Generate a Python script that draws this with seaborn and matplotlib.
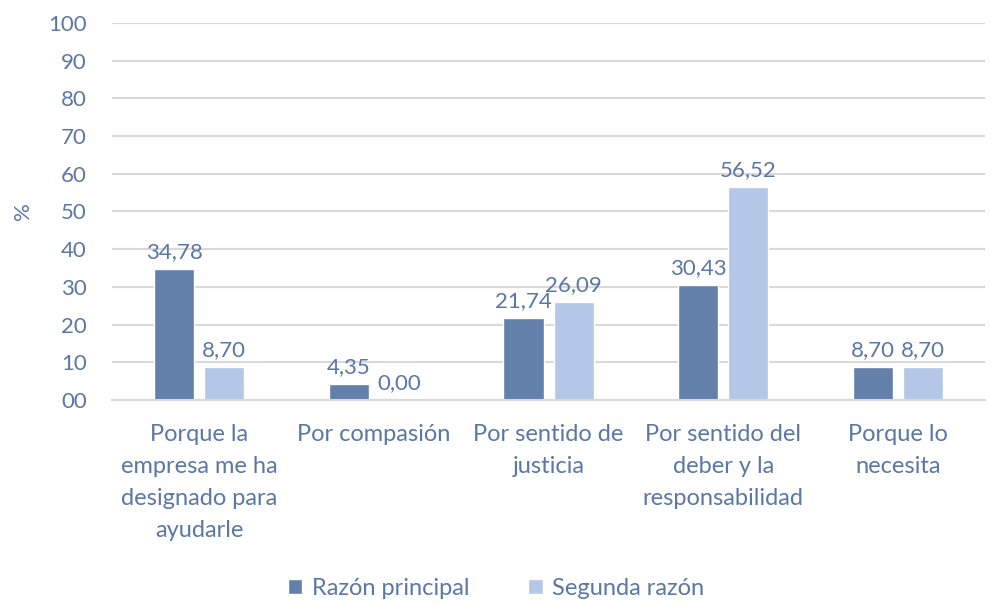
import pandas as pd
import numpy as np
import matplotlib.pyplot as plt
import seaborn as sns

categorias = ["Porque la\nempresa me ha\ndesignado para\nayudarle",
              "Por compasión",
              "Por sentido de\njusticia",
              "Por sentido del\ndeber y la\nresponsabilidad",
              "Porque lo\nnecesita"]
razon_principal = [34.78, 4.35, 21.74, 30.43, 8.70]
segunda_razon = [8.70, 0.00, 26.09, 56.52, 8.70]
series = ["Razón principal", "Segunda razón"]
y_ticks = [0, 10, 20, 30, 40, 50, 60, 70, 80, 90, 100]
y_tick_labels = ["00", "10", "20", "30", "40", "50", "60", "70", "80", "90", "100"]

df = pd.DataFrame({
    "Categoria": categorias * 2,
    "Valor": razon_principal + segunda_razon,
    "Serie": [series[0]] * 5 + [series[1]] * 5,
})

sns.set_theme(style="white")
plt.rcParams['font.family'] = ['Lato', 'DejaVu Sans']
txt = "#5a77a5"
palette = {"Razón principal": "#6380aa", "Segunda razón": "#b4c7e7"}

fig, ax = plt.subplots(figsize=(9.91, 6.06), dpi=100)
fig.subplots_adjust(left=0.113, right=0.994, top=0.962, bottom=0.34)

sns.barplot(data=df, x="Categoria", y="Valor", hue="Serie", palette=palette,
            width=0.573, gap=0.2, saturation=1, ax=ax, legend=True)

for cont in ax.containers:
    ax.bar_label(cont, labels=[f"{v:.2f}".replace(".", ",") for v in cont.datavalues],
                 padding=5, color=txt, fontsize=16)

ax.set_ylim(0, 100)
ax.set_yticks(y_ticks)
ax.set_yticklabels(y_tick_labels)
ax.set_xlim(-0.5, 4.5)
ax.yaxis.grid(True, color="#d9d9d9", linewidth=1.5)
ax.set_axisbelow(True)
for s in ["top", "right", "left"]:
    ax.spines[s].set_visible(False)
ax.spines["bottom"].set_color("#d9d9d9")
ax.spines["bottom"].set_linewidth(1.5)
ax.tick_params(axis="both", colors=txt, labelsize=16, length=0)
ax.tick_params(axis="y", pad=18)
ax.tick_params(axis="x", pad=17, labelsize=17)
for lbl in ax.get_xticklabels():
    lbl.set_linespacing(1.65)
ax.set_xlabel("")
ax.set_ylabel("%", color=txt, fontsize=16)
ax.yaxis.set_label_coords(-0.09, 0.5)

ax.legend(loc="lower center", bbox_to_anchor=(0.44, -0.585), ncol=2, frameon=False,
          fontsize=17, labelcolor=txt, handlelength=0.6, handleheight=0.6,
          columnspacing=2.5, handletextpad=0.4)

plt.savefig("out.png", dpi=100)
